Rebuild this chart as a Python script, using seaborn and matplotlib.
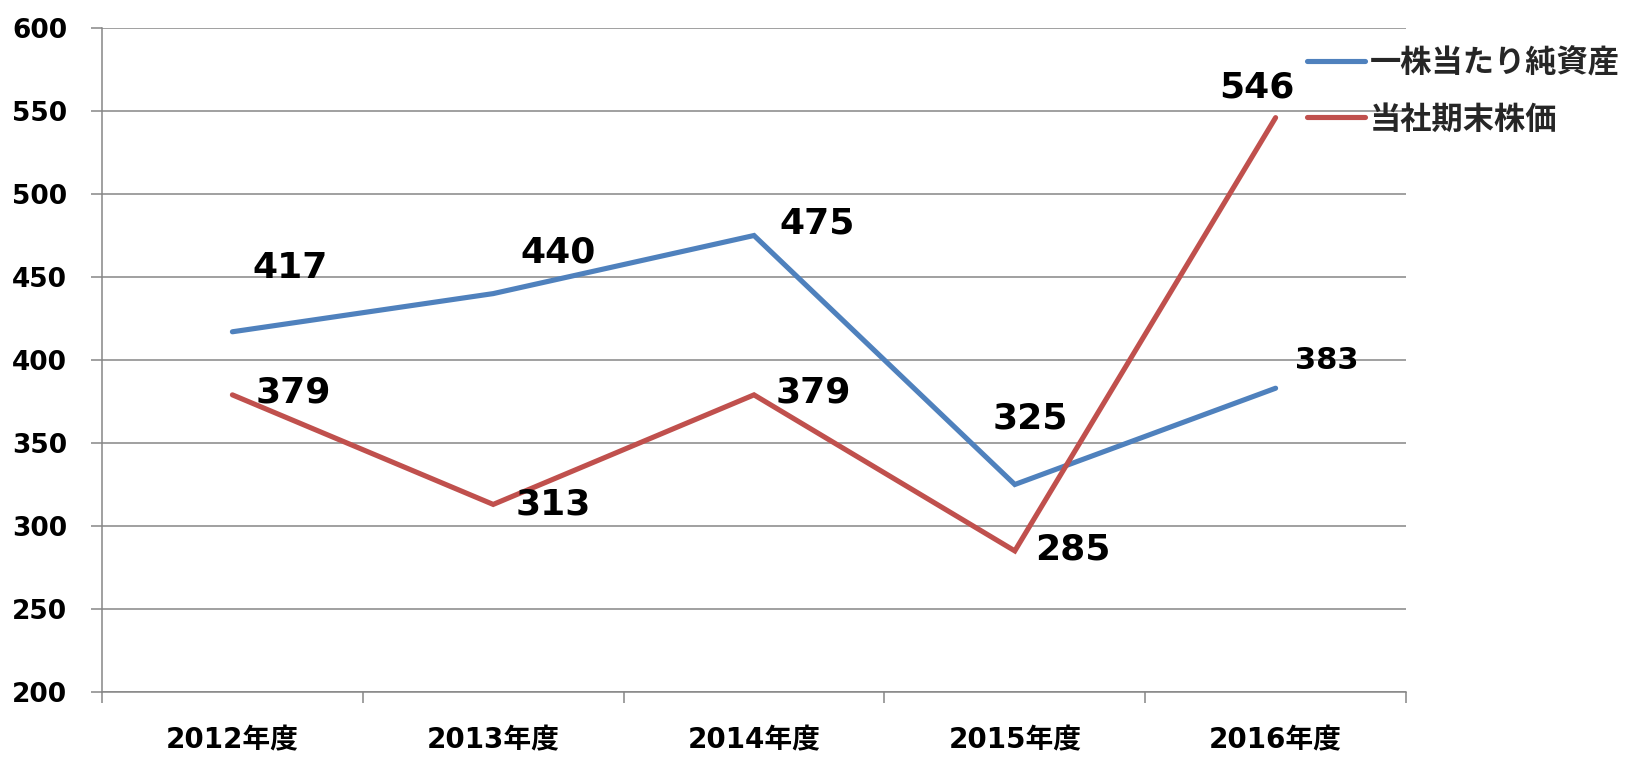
import matplotlib
matplotlib.use("Agg")
import matplotlib.pyplot as plt
import seaborn as sns
import pandas as pd
from matplotlib.ticker import FixedLocator, MultipleLocator

years = ["2012年度", "2013年度", "2014年度", "2015年度", "2016年度"]
series_names = ["一株当たり純資産", "当社期末株価"]
bps = [417, 440, 475, 325, 383]
price = [379, 313, 379, 285, 546]
colors = ["#4F81BD", "#C0504D"]

# label offsets in pixels (dx, dy) and sizes
bps_offsets = [(58, 64), (65, 41), (63, 12), (15, 66), (51, 28)]
price_offsets = [(61, 2), (60, 0), (59, 2), (58, 1), (-19, 30)]
bps_sizes = [26, 26, 26, 26, 22]
price_sizes = [26, 26, 26, 26, 26]

sns.set_style("white")
plt.rcParams['font.family'] = ['DejaVu Sans', 'Noto Sans CJK JP']
plt.rcParams['font.weight'] = 'bold'

df = pd.DataFrame({
    "year": years * 2,
    "value": bps + price,
    "series": [series_names[0]] * 5 + [series_names[1]] * 5,
})
df["x"] = list(range(5)) * 2

fig = plt.figure(figsize=(16.28, 7.59), dpi=100)
ax = fig.add_axes([102 / 1628, 1 - 692 / 759, (1406 - 102) / 1628, (692 - 28) / 759])

sns.lineplot(data=df, x="x", y="value", hue="series", palette=colors,
             linewidth=3.7, ax=ax, legend=True, sort=False)
for ln in ax.lines:
    ln.set_solid_capstyle("round")
    ln.set_solid_joinstyle("miter")

ax.set_xlim(-0.5, 4.5)
ax.set_ylim(200, 600)
ax.yaxis.set_major_locator(MultipleLocator(50))
ax.set_xticks(range(5))
ax.set_xticklabels(years, fontsize=20, fontweight='bold', color='black')
ax.xaxis.set_minor_locator(FixedLocator([-0.5, 0.5, 1.5, 2.5, 3.5, 4.5]))
ax.tick_params(axis='x', which='both', bottom=True)
ax.tick_params(axis='x', which='major', length=0, pad=25)
ax.tick_params(axis='x', which='minor', length=8, width=1.1, color='#868686')
ax.tick_params(axis='y', which='major', left=True, length=8, width=1.1, color='#868686',
               labelsize=19, pad=17, labelcolor='black')
for lab in ax.get_yticklabels():
    lab.set_fontweight('bold')
ax.grid(axis='y', color='#868686', linewidth=1.1)
ax.set_axisbelow(True)
for s in ['top', 'right']:
    ax.spines[s].set_visible(False)
for s in ['left', 'bottom']:
    ax.spines[s].set_color('#868686')
    ax.spines[s].set_linewidth(1.1)
ax.set_xlabel("")
ax.set_ylabel("")

for i, v in enumerate(bps):
    dx, dy = bps_offsets[i]
    ax.annotate(str(v), (i, v), xytext=(dx, dy), textcoords='offset pixels',
                ha='center', va='center', fontsize=bps_sizes[i], fontweight='bold',
                color='black')
for i, v in enumerate(price):
    dx, dy = price_offsets[i]
    ax.annotate(str(v), (i, v), xytext=(dx, dy), textcoords='offset pixels',
                ha='center', va='center', fontsize=price_sizes[i], fontweight='bold',
                color='black')

handles, labels = ax.get_legend_handles_labels()
for h in handles:
    h.set_solid_capstyle("round")
ax.legend(handles, labels, loc='upper left', bbox_to_anchor=(1307 / 1628, 1 - 47 / 759),
          bbox_transform=fig.transFigure, frameon=False,
          prop={'family': ['Noto Sans CJK JP'], 'weight': 'bold', 'size': 22.5},
          handlelength=1.85, handletextpad=0.15, labelspacing=0.78, borderaxespad=0,
          borderpad=0)

fig.savefig("out.png", dpi=100)
